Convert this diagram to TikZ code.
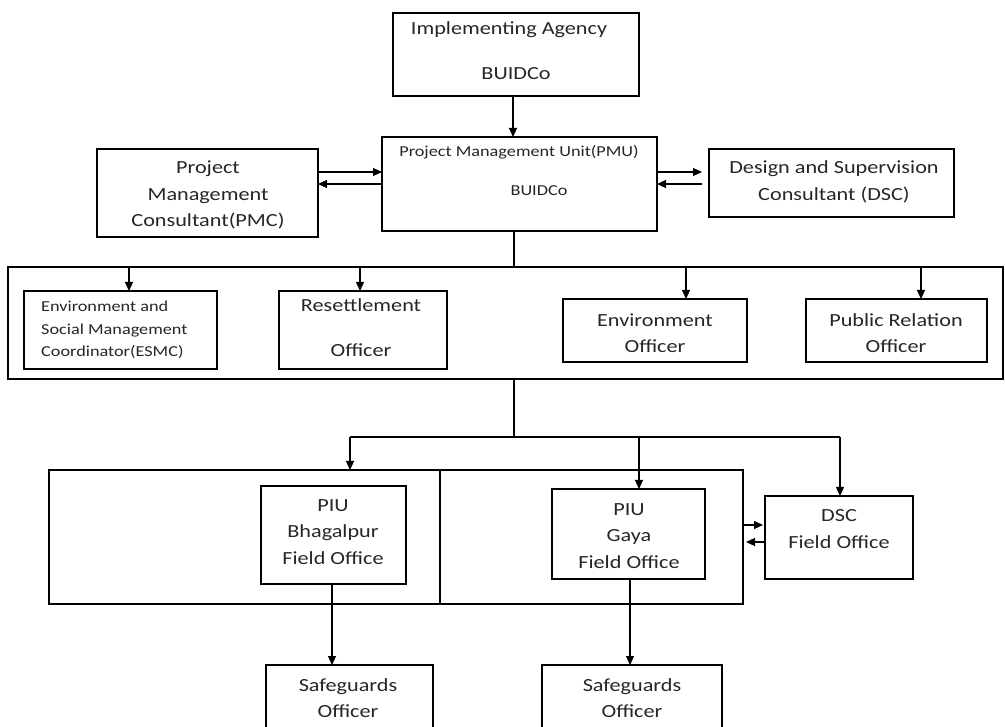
\documentclass[tikz,border=0pt]{standalone}
\usepackage{fontspec}
\setmainfont[FakeStretch=1.2]{Carlito}
\usetikzlibrary{arrows.meta,calc}
\begin{document}
\begin{tikzpicture}[x=1pt,y=-1pt,
  box/.style={draw=black,line width=1.1pt,anchor=north west,inner sep=0pt,outer sep=0pt},
  big/.style={inner sep=0pt,text=black!85,font=\fontsize{18.5}{26.5}\selectfont,align=center},
  small/.style={inner sep=0pt,text=black!85,font=\fontsize{15.2}{22.5}\selectfont,align=center},
  ln/.style={line width=1.1pt,draw=black},
  arr/.style={ln,-{Triangle[length=9pt,width=8pt]}}]
\path[use as bounding box] (0,0) rectangle (1005,727);
\clip (0,0) rectangle (1005,727);
% boxes
\node[box,minimum width=246pt,minimum height=83pt] (ia) at (393,13) {};
\node[box,minimum width=275pt,minimum height=94pt] (pmu) at (382,137) {};
\node[box,minimum width=221pt,minimum height=88pt] (pmc) at (97,149) {};
\node[box,minimum width=245pt,minimum height=68pt] (dsc) at (709,149) {};
\node[box,minimum width=995pt,minimum height=112pt] (outer) at (8,267) {};
\node[box,minimum width=193pt,minimum height=78pt] (esmc) at (24,291) {};
\node[box,minimum width=168pt,minimum height=78pt] (rs) at (279,291) {};
\node[box,minimum width=184pt,minimum height=63pt] (env) at (563,299) {};
\node[box,minimum width=181pt,minimum height=63pt] (pr) at (806,299) {};
\node[box,minimum width=391pt,minimum height=134pt] (outL) at (49,470) {};
\node[box,minimum width=303pt,minimum height=134pt] (outR) at (440,470) {};
\node[box,minimum width=145pt,minimum height=98pt] (bhag) at (261,486) {};
\node[box,minimum width=153pt,minimum height=90pt] (gaya) at (552,489) {};
\node[box,minimum width=148pt,minimum height=83pt] (dscfo) at (765,496) {};
\node[box,minimum width=167pt,minimum height=80pt] (sg1) at (266,665) {};
\node[box,minimum width=180pt,minimum height=80pt] (sg2) at (542,665) {};
% texts
\node[big,anchor=mid] (iat1) at (509,32) {Implementing Agency};
\node[big,anchor=mid] (iat2) at (516,77) {BUIDCo};
\node[small,anchor=mid] (pmut1) at (519,154) {Project Management Unit(PMU)};
\node[small,anchor=mid] (pmut2) at (539,193) {BUIDCo};
\node[big] (pmct) at (208,195) {Project\\Management\\Consultant(PMC)};
\node[big] (dsct) at (834,182) {Design and Supervision\\Consultant (DSC)};
\node[small,anchor=west,align=left] (esmct) at (41,330) {Environment and\\Social Management\\Coordinator(ESMC)};
\node[big,anchor=mid] (rst1) at (361,309) {Resettlement};
\node[big,anchor=mid] (rst2) at (361,354) {Officer};
\node[big] (envt) at (655,333) {Environment\\Officer};
\node[big] (prt) at (896,333) {Public Relation\\Officer};
\node[big] (bhagt) at (333,532) {PIU\\Bhagalpur\\Field Office};
\node[big] (gayat) at (629,536) {PIU\\Gaya\\Field Office};
\node[big] (dscfot) at (839,529) {DSC\\Field Office};
\node[big] (sg1t) at (348,698) {Safeguards\\Officer};
\node[big] (sg2t) at (632,698) {Safeguards\\Officer};
% coordinates
\coordinate (top) at (514,231);
\coordinate (bus) at (514,267);
\coordinate (b1) at (129,267);
\coordinate (b2) at (360,267);
\coordinate (b3) at (686,267);
\coordinate (b4) at (921,267);
\coordinate (mid) at (514,379);
\coordinate (lbus) at (514,437);
\coordinate (l1) at (350,437);
\coordinate (l2) at (639,437);
\coordinate (l3) at (840,437);
% connectors
\draw[arr] (ia.south -| 513,0) -- (pmu.north -| 513,0);
\draw[arr] (pmc.east |- 0,172) -- (pmu.west |- 0,172);
\draw[arr] (pmu.west |- 0,184) -- (pmc.east |- 0,184);
\draw[arr,shorten >=7pt] (pmu.east |- 0,172) -- (dsc.west |- 0,172);
\draw[arr,shorten <=7pt] (dsc.west |- 0,184) -- (pmu.east |- 0,184);
\draw[ln] (top) -- (bus);
\draw[line width=1.8pt] (b1) -- (b4);
\draw[arr] (b1) -- (b1 |- esmc.north);
\draw[arr] (b2) -- (b2 |- rs.north);
\draw[arr] (b3) -- (b3 |- env.north);
\draw[arr] (b4) -- (b4 |- pr.north);
\draw[ln] (mid) -- (lbus);
\draw[ln] (l1) -- (l3);
\draw[arr] (l1) -- (l1 |- outL.north);
\draw[arr] (l2) -- (l2 |- gaya.north);
\draw[arr] (l3) -- (l3 |- dscfo.north);
\draw[arr,shorten >=2pt] (outR.east |- 0,525) -- (dscfo.west |- 0,525);
\draw[arr,shorten >=3pt] (dscfo.west |- 0,542) -- (outR.east |- 0,542);
\draw[arr] (bhag.south -| 332,0) -- (sg1.north -| 332,0);
\draw[arr] (gaya.south -| 630,0) -- (sg2.north -| 630,0);
\end{tikzpicture}
\end{document}
